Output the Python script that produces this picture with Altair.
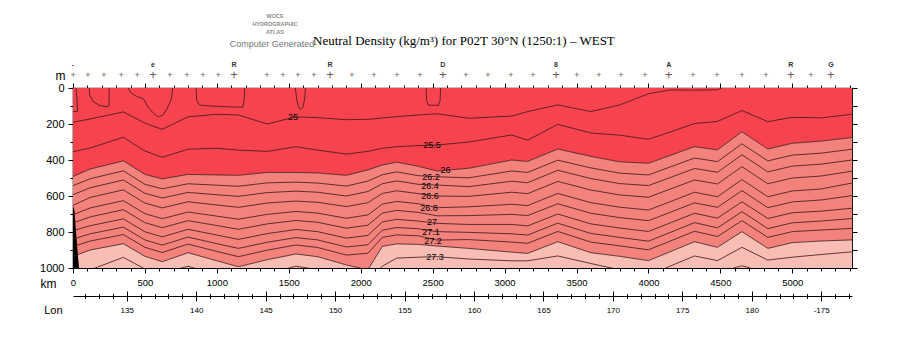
import altair as alt
import pandas as pd

# ---------------- data ----------------
KM = [0, 120, 350, 500, 620, 800, 1000, 1150, 1350, 1550, 1700, 1900, 2050, 2150, 2250, 2400,
      2530, 2750, 3050, 3160, 3370, 3600, 3800, 4000, 4150, 4320, 4480, 4650, 4830, 5000, 5200, 5415]

C25_KM = [0, 120, 350, 500, 620, 800, 1000, 1150, 1350, 1550, 1700, 1900, 2050, 2150, 2250, 2400,
          2530, 2750, 3050, 3160, 3370, 3600, 3800, 4000, 4150, 4320, 4480, 4510]
C25 = [190, 172, 133, 195, 230, 160, 146, 150, 200, 160, 165, 176, 174, 167, 159, 150,
       143, 168, 156, 131, 94, 131, 94, 32, 11, 12, 10, 0]

C25_5 = [354, 333, 274, 350, 385, 340, 335, 345, 352, 326, 345, 367, 352, 335, 326, 320,
         317, 300, 261, 290, 202, 250, 262, 285, 245, 197, 186, 125, 187, 163, 166, 146]
C26 = [491, 450, 405, 480, 505, 480, 483, 485, 469, 469, 472, 485, 455, 428, 412, 435,
       461, 446, 400, 408, 339, 380, 410, 418, 375, 326, 344, 243, 339, 307, 295, 275]
C26_2 = [543, 504, 460, 535, 560, 532, 540, 546, 527, 523, 528, 545, 517, 482, 466, 487,
         493, 499, 461, 469, 401, 444, 473, 483, 439, 389, 409, 310, 405, 373, 362, 340]
C26_4 = [593, 554, 511, 585, 611, 580, 593, 602, 581, 573, 579, 600, 575, 532, 516, 535,
         539, 548, 518, 526, 457, 503, 531, 542, 498, 447, 468, 371, 466, 434, 423, 400]
C26_6 = [652, 608, 566, 639, 666, 632, 650, 663, 639, 628, 635, 659, 637, 586, 571, 587,
         600, 602, 579, 587, 519, 567, 594, 607, 562, 511, 533, 437, 532, 500, 489, 462]
C26_8 = [704, 666, 626, 698, 726, 689, 712, 729, 702, 686, 695, 724, 705, 645, 630, 643,
         665, 660, 646, 653, 586, 637, 662, 678, 632, 579, 604, 509, 604, 572, 561, 528]
C26_9 = [750, 716, 676, 748, 776, 737, 764, 785, 755, 736, 746, 779, 762, 695, 680, 691,
         710, 709, 702, 709, 643, 696, 720, 737, 691, 638, 663, 570, 665, 633, 622, 598]
C27_0 = [793, 765, 727, 799, 827, 785, 817, 841, 809, 786, 798, 834, 819, 744, 730, 739,
         752, 758, 758, 766, 700, 755, 778, 797, 750, 696, 723, 632, 725, 693, 684, 668]
C27_1 = [839, 810, 773, 844, 873, 828, 865, 891, 857, 831, 844, 883, 871, 790, 775, 782,
         798, 802, 810, 817, 751, 808, 830, 851, 803, 748, 777, 687, 781, 749, 739, 725]
C27_2 = [880, 850, 814, 885, 914, 867, 908, 937, 901, 872, 886, 928, 918, 830, 816, 821,
         845, 842, 856, 863, 797, 856, 877, 899, 851, 796, 825, 737, 830, 798, 789, 780]
C27_25 = [935, 900, 865, 935, 965, 915, 960, 993, 954, 922, 937, 983, 1010, 880, 866, 869,
          878, 891, 912, 919, 854, 915, 935, 959, 910, 854, 885, 798, 891, 859, 850, 844]
C27_3 = [1060, 1010, 941, 1005, 1030, 990, 1040, 1060, 1030, 990, 1010, 1060, 1080, 990, 945, 940,
         937, 950, 960, 960, 933, 975, 1010, 1040, 990, 933, 959, 885, 956, 940, 925, 910]
C27_4_KM = [4590, 4650, 4710]
C27_4 = [1000, 988, 1000]

# closed near-surface contours
ISLANDS = {
    "A": ([20, 26, 29, 30, 0], [0, 50, 100, 130, 132]),
    "B": ([113, 116, 140, 180, 230, 250, 252], [0, 40, 75, 95, 105, 100, 0]),
    "C": ([385, 400, 440, 490, 525, 560, 593, 625, 650, 680, 690, 693],
          [0, 25, 45, 60, 110, 140, 160, 150, 120, 70, 30, 0]),
    "D": ([855, 860, 880, 950, 1100, 1180, 1190, 1192], [0, 70, 95, 100, 105, 107, 70, 0]),
    "E": ([1545, 1555, 1565, 1580, 1600, 1612, 1615], [0, 60, 100, 120, 105, 50, 0]),
    "F": ([2455, 2458, 2470, 2540, 2552, 2555], [0, 70, 95, 97, 70, 0]),
}

TOPO_KM = [0, 10, 20, 30, 42]
TOPO_DEPTH = [655, 680, 790, 890, 1000]

LABEL_TEXT = ["25", "25.5", "26", "26.2", "26.4", "26.6", "26.8", "27", "27.1", "27.2", "27.3"]
LABEL_KM = [1529, 2495, 2590, 2488, 2481, 2481, 2474, 2495, 2488, 2502, 2516]
LABEL_DEPTH = [161, 317, 456, 492, 543, 600, 665, 746, 801, 852, 939]

STATION_KM = [0, 104, 215, 334, 445, 556, 674, 792, 903, 1008, 1119, 1348, 1459, 1564, 1675, 1786,
              1939, 2092, 2252, 2411, 2571, 2731, 2884, 3044, 3197, 3357, 3502, 3655, 3808, 3975,
              4142, 4309, 4475, 4649, 4816, 4990, 5129, 5268]
STATION_LABEL_KM = [0, 556, 1119, 1786, 2571, 3357, 4142, 4990, 5268]
STATION_LABELS = ["-", "e", "R", "R", "D", "8", "A", "R", "G"]

KM_TICKS_MAJOR = list(range(0, 5001, 500))
KM_TICKS_MINOR = list(range(0, 5401, 100))
DEPTH_TICKS_MAJOR = list(range(0, 1001, 200))
DEPTH_TICKS_MINOR = list(range(0, 1001, 100))
LON_MAJOR = [135, 140, 145, 150, 155, 160, 165, 170, 175, 180, 185]
LON_MINOR = list(range(132, 188))

KM_MAX = 5415
LON_DOMAIN = [131.13, 187.22]

RED = "#F7434D"
SALMON = "#F3817C"
PINK = "#F8BDB5"
LINE = "#3a1818"
FONT = "Liberation Sans"

# ---------------- tables ----------------
band_rows = []
for i, k in enumerate(KM):
    band_rows.append(dict(km=k, top=0, bot=C26[i], band="a"))
    band_rows.append(dict(km=k, top=C26[i], bot=C27_25[i], band="b"))
    band_rows.append(dict(km=k, top=C27_25[i], bot=1000, band="c"))
band_df = pd.DataFrame(band_rows)

line_rows = []
for name, arr in [("25.5", C25_5), ("26", C26), ("26.2", C26_2), ("26.4", C26_4), ("26.6", C26_6),
                  ("26.8", C26_8), ("26.9", C26_9), ("27", C27_0), ("27.1", C27_1), ("27.2", C27_2),
                  ("27.25", C27_25), ("27.3", C27_3)]:
    for k, d in zip(KM, arr):
        line_rows.append(dict(level=name, km=k, depth=d))
for k, d in zip(C25_KM, C25):
    line_rows.append(dict(level="25", km=k, depth=d))
for k, d in zip(C27_4_KM, C27_4):
    line_rows.append(dict(level="27.4", km=k, depth=d))
line_df = pd.DataFrame(line_rows)

isl_rows = []
for name, (ks, ds) in ISLANDS.items():
    for j, (k, d) in enumerate(zip(ks, ds)):
        isl_rows.append(dict(shape=name, seq=j, km=k, depth=d))
isl_df = pd.DataFrame(isl_rows)

topo_df = pd.DataFrame(dict(km=TOPO_KM, depth=TOPO_DEPTH, floor=[1000] * len(TOPO_KM)))
lab_df = pd.DataFrame(dict(text=LABEL_TEXT, km=LABEL_KM, depth=LABEL_DEPTH))
st_df = pd.DataFrame(dict(km=STATION_KM,
                          big=[k in STATION_LABEL_KM[1:] for k in STATION_KM]))
stl_df = pd.DataFrame(dict(km=STATION_LABEL_KM, text=STATION_LABELS))
lonmaj_df = pd.DataFrame(dict(lon=LON_MAJOR))
lonmin_df = pd.DataFrame(dict(lon=LON_MINOR))
one = pd.DataFrame(dict(a=[0]))

# ---------------- scales / axes ----------------
def kmscale():
    return alt.Scale(domain=[0, KM_MAX], nice=False, zero=False)

def lonscale():
    return alt.Scale(domain=LON_DOMAIN, nice=False, zero=False)

YS = alt.Scale(domain=[0, 1000], reverse=True, nice=False, zero=False)

ax_b_major = alt.Axis(orient="bottom", values=KM_TICKS_MAJOR, tickSize=5, domain=False, grid=False,
                      format="d", labelFontSize=9.5, labelPadding=4, labelFlush=False,
                      title="km", titleX=-17, titleY=15, titleAlign="right", titleBaseline="middle",
                      titleFontSize=12, titleFontWeight="normal")
ax_b_minor = alt.Axis(orient="bottom", values=KM_TICKS_MINOR, tickSize=3, domain=False, grid=False,
                      labels=False, title=None)
ax_t_major = alt.Axis(orient="top", values=KM_TICKS_MAJOR, tickSize=5, domain=False, grid=False,
                      labels=False, title="m", titleX=-8, titleY=-13, titleAlign="right",
                      titleBaseline="middle", titleFontSize=12, titleFontWeight="normal")
ax_t_minor = alt.Axis(orient="top", values=KM_TICKS_MINOR, tickSize=3, domain=False, grid=False,
                      labels=False, title=None)
ax_l_major = alt.Axis(orient="left", values=DEPTH_TICKS_MAJOR, tickSize=5, domain=False, grid=False,
                      format="d", labelFontSize=11, labelPadding=4, labelFlush=False, title=None)
ax_l_minor = alt.Axis(orient="left", values=DEPTH_TICKS_MINOR, tickSize=3, domain=False, grid=False,
                      labels=False, title=None)
ax_r = alt.Axis(orient="right", values=DEPTH_TICKS_MINOR, tickSize=5, domain=False, grid=False,
                labels=False, title=None)

ax_lon_b_major = alt.Axis(orient="bottom", offset=28, values=LON_MAJOR, tickSize=5, domain=True,
                          domainColor="black", domainWidth=1, grid=False, labelFontSize=8,
                          labelPadding=5, labelFlush=False,
                          labelExpr="datum.value > 180 ? '-' + (360 - datum.value) : '' + datum.value",
                          title="Lon", titleX=-11, titleY=14, titleAlign="right",
                          titleBaseline="middle", titleFontSize=11, titleFontWeight="normal")
ax_lon_b_minor = alt.Axis(orient="bottom", offset=28, values=LON_MINOR, tickSize=2.5, domain=False,
                          grid=False, labels=False, title=None)
ax_lon_t_major = alt.Axis(orient="top", offset=-208, values=LON_MAJOR, tickSize=5, domain=False,
                          grid=False, labels=False, title=None)
ax_lon_t_minor = alt.Axis(orient="top", offset=-208, values=LON_MINOR, tickSize=2.5, domain=False,
                          grid=False, labels=False, title=None)

# ---------------- layers ----------------
bands = alt.Chart(band_df).mark_area(clip=True, interpolate="linear").encode(
    x=alt.X("km:Q", scale=kmscale(), axis=ax_b_major),
    y=alt.Y("top:Q", scale=YS, axis=ax_l_major),
    y2="bot:Q",
    color=alt.Color("band:N", scale=alt.Scale(domain=["a", "b", "c"], range=[RED, SALMON, PINK]),
                    legend=None),
)

topo = alt.Chart(topo_df).mark_area(clip=True, color="black").encode(
    x=alt.X("km:Q", scale=kmscale(), axis=ax_b_minor),
    y=alt.Y("depth:Q", scale=YS, axis=ax_l_minor),
    y2="floor:Q",
)

lines = alt.Chart(line_df).mark_line(clip=True, color=LINE, strokeWidth=0.8).encode(
    x=alt.X("km:Q", scale=kmscale(), axis=ax_t_major),
    y=alt.Y("depth:Q", scale=YS, axis=ax_r),
    detail="level:N",
    order="km:Q",
)

islands = alt.Chart(isl_df).mark_line(clip=True, color=LINE, strokeWidth=0.8).encode(
    x=alt.X("km:Q", scale=kmscale(), axis=ax_t_minor),
    y=alt.Y("depth:Q", scale=YS, axis=None),
    detail="shape:N",
    order="seq:Q",
)

labels = alt.Chart(lab_df).mark_text(font=FONT, fontSize=9, color="black").encode(
    x=alt.X("km:Q", scale=kmscale(), axis=None),
    y=alt.Y("depth:Q", scale=YS, axis=None),
    text="text:N",
)

stations = alt.Chart(st_df).mark_text(font=FONT, color="#6d5560", baseline="middle").encode(
    x=alt.X("km:Q", scale=kmscale(), axis=None),
    y=alt.value(-13),
    text=alt.value("+"),
    size=alt.Size("big:N", scale=alt.Scale(domain=[False, True], range=[9, 13]), legend=None),
)

station_labels = alt.Chart(stl_df).mark_text(font=FONT, fontSize=7, fontWeight="bold",
                                               color="#333333").encode(
    x=alt.X("km:Q", scale=kmscale(), axis=None),
    y=alt.value(-23),
    text="text:N",
)

lon1 = alt.Chart(lonmaj_df).mark_tick(opacity=0).encode(
    x=alt.X("lon:Q", scale=lonscale(), axis=ax_lon_b_major))
lon2 = alt.Chart(lonmin_df).mark_tick(opacity=0).encode(
    x=alt.X("lon:Q", scale=lonscale(), axis=ax_lon_b_minor))
lon3 = alt.Chart(lonmaj_df).mark_tick(opacity=0).encode(
    x=alt.X("lon:Q", scale=lonscale(), axis=ax_lon_t_major))
lon4 = alt.Chart(lonmin_df).mark_tick(opacity=0).encode(
    x=alt.X("lon:Q", scale=lonscale(), axis=ax_lon_t_minor))

title = alt.Chart(one).mark_text(font="Liberation Serif", fontSize=13, align="left",
                                 baseline="middle", color="black").encode(
    x=alt.value(240), y=alt.value(-47),
    text=alt.value("Neutral Density (kg/m³) for P02T 30°N (1250:1) – WEST"))

logo_words = ["WOCE", "HYDROGRAPHIC", "ATLAS"]
logos = [alt.Chart(one).mark_text(font=FONT, fontSize=5.5, fontWeight="bold", align="center",
                                  baseline="middle", color="#8a8a8a").encode(
    x=alt.value(202), y=alt.value(-72 + 8 * i), text=alt.value(w)) for i, w in enumerate(logo_words)]
computer = alt.Chart(one).mark_text(font=FONT, fontSize=9, align="center", baseline="middle",
                                    color="#777777").encode(
    x=alt.value(199), y=alt.value(-44), text=alt.value("Computer Generated"))

chart = alt.layer(
    bands, topo, lines, islands, labels, stations, station_labels,
    lon1, lon2, lon3, lon4, title, *logos, computer,
).resolve_scale(x="independent").resolve_axis(x="independent", y="independent").properties(
    width=779, height=180,
    padding={"left": 73, "top": 88, "right": 48, "bottom": 82},
    autosize=alt.AutoSizeParams(type="none"),
    background="white",
).configure_view(stroke="black", strokeWidth=1.2).configure_axis(
    labelFont=FONT, titleFont=FONT, tickColor="black", labelColor="black", titleColor="black",
    tickWidth=1,
)

chart.save("out.html", embed_options={"renderer": "svg", "actions": False})
